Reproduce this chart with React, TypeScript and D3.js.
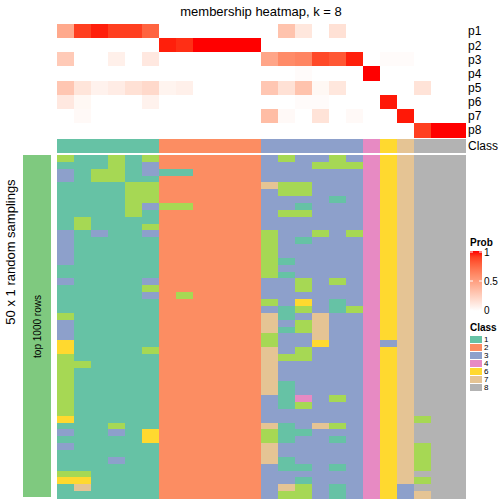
import React from "react";
import * as d3 from "d3";

const columns = d3.range(24);
const probRows = ["p1", "p2", "p3", "p4", "p5", "p6", "p7", "p8"];
const p1 = [0.45, 0.9, 0.97, 0.9, 0.9, 0.77, 0, 0, 0, 0, 0, 0, 0, 0.32, 0.13, 0, 0.16, 0, 0, 0, 0, 0, 0, 0];
const p2 = [0, 0, 0, 0, 0, 0, 0.97, 0.94, 1, 1, 1, 1, 0, 0, 0, 0, 0, 0, 0, 0, 0, 0, 0, 0];
const p3 = [0.28, 0, 0, 0.08, 0, 0.12, 0, 0, 0, 0, 0, 0, 0.47, 0.6, 0.63, 0.87, 0.82, 0.97, 0, 0.02, 0.02, 0, 0, 0];
const p4 = [0, 0, 0, 0, 0, 0, 0, 0, 0, 0, 0, 0, 0, 0, 0.02, 0, 0, 0, 1, 0, 0, 0, 0, 0];
const p5 = [0.3, 0.14, 0.07, 0.1, 0.16, 0.2, 0.06, 0.08, 0, 0, 0, 0, 0.3, 0.16, 0.32, 0.04, 0.13, 0, 0, 0, 0, 0.15, 0, 0];
const p6 = [0.12, 0.04, 0, 0, 0, 0.07, 0, 0, 0, 0, 0, 0, 0, 0, 0.02, 0.02, 0, 0, 0, 0.98, 0, 0, 0, 0];
const p7 = [0, 0.03, 0, 0, 0, 0, 0, 0, 0, 0, 0, 0, 0.35, 0.03, 0, 0.15, 0, 0.03, 0, 0, 0.98, 0, 0, 0];
const p8 = [0, 0, 0, 0, 0, 0, 0, 0, 0, 0, 0, 0, 0, 0, 0, 0, 0, 0, 0, 0, 0, 0.9, 1, 1];
const probs = [p1, p2, p3, p4, p5, p6, p7, p8];

const columnClass = [1, 1, 1, 1, 1, 1, 2, 2, 2, 2, 2, 2, 3, 3, 3, 3, 3, 3, 4, 6, 7, 8, 8, 8];

// 50 random samplings, one class digit per column
const samplings = [
  "511515222222353353467888",
  "111513222222333555467888",
  "315513112222333333467888",
  "315511222222333333467888",
  "111155222222755333467888",
  "111155222222355333467888",
  "111155222222333313467888",
  "111153552222331333467888",
  "111151222222355333467888",
  "151111222222333333467888",
  "151115222222333333467888",
  "313113222222533535467888",
  "311111222222531333467888",
  "311111222222533333467888",
  "311111222222533333467888",
  "311111222222513333467888",
  "111111222222533333467888",
  "111111222222513333467888",
  "311113222222335353467888",
  "111115222222335333467888",
  "111113252222333333467888",
  "111111222222536313467888",
  "111111222222315315467888",
  "511111222222713733467888",
  "311111222222735733467888",
  "311111222222715733467888",
  "311111222222533733467888",
  "611111222222533633437888",
  "611115222222735333467888",
  "511111222222755333467888",
  "551111222222733333467888",
  "511111222222733333467888",
  "511111222222733333467888",
  "511111222222713333467888",
  "511111222222713333467888",
  "511111222222314353467888",
  "511111222222315333467888",
  "511111222222333333467888",
  "611111222222333333467588",
  "111511222222713753467888",
  "311316222222511333467888",
  "111116222222513313467888",
  "311111222222733333467588",
  "111111222222733333467588",
  "111311222222713333467588",
  "111111222222311313467588",
  "551111222222333333467888",
  "661111222222331333467588",
  "171111222222375313463888",
  "111111222222355313463788",
];

const classIds = [1, 2, 3, 4, 5, 6, 7, 8];
const classColors = ["#66C2A5", "#FC8D62", "#8DA0CB", "#E78AC3", "#A6D854", "#FFD92F", "#E5C494", "#B3B3B3"];
const legendClasses = ["1", "2", "3", "4", "6", "7", "8"];
const probTicks = [0, 0.5, 1];

const FONT = "'Liberation Sans', Arial, Helvetica, sans-serif";

export default function App() {
  const x = d3.scaleBand<number>().domain(columns).range([57, 465]);
  const yTop = d3.scaleBand<string>().domain(probRows).range([24, 137]);
  const yBot = d3.scaleBand<number>().domain(d3.range(samplings.length)).range([155, 498]);
  const probColor = d3.scaleLinear<string>().domain([0, 1]).range(["#FFFFFF", "#FF0000"]).interpolate(d3.interpolateLab);
  const classColor = d3.scaleOrdinal<number, string>().domain(classIds).range(classColors);
  const legendY = d3.scaleLinear().domain([0, 1]).range([310, 252]);
  const gradStops = d3.range(0, 1.0001, 0.1);

  return (
    <svg width={504} height={504} style={{ position: "absolute", left: 0, top: 0, fontFamily: FONT }}>
      <defs>
        <linearGradient id="probGrad" x1="0" y1="1" x2="0" y2="0">
          {gradStops.map((s) => (
            <stop key={s} offset={s} stopColor={probColor(s)} />
          ))}
        </linearGradient>
      </defs>
      <rect width={504} height={504} fill="#FFFFFF" />
      <text x={261} y={16} fontSize={13} textAnchor="middle" fill="#000">
        membership heatmap, k = 8
      </text>

      <g shapeRendering="crispEdges">
        {probs.map((row, ri) =>
          row.map((v, ci) => (
            <rect
              key={`p${ri}-${ci}`}
              x={x(ci)}
              y={yTop(probRows[ri])}
              width={x.bandwidth() + 0.5}
              height={yTop.bandwidth() + 0.5}
              fill={probColor(v)}
            />
          ))
        )}
        {columnClass.map((c, ci) => (
          <rect key={`c${ci}`} x={x(ci)} y={138.5} width={x.bandwidth() + 0.5} height={14} fill={classColor(c)} />
        ))}
        <rect x={23} y={155} width={28} height={342} fill="#7FC97F" />
        {samplings.map((row, ri) =>
          row.split("").map((ch, ci) => (
            <rect
              key={`s${ri}-${ci}`}
              x={x(ci)}
              y={yBot(ri)}
              width={x.bandwidth() + 0.5}
              height={yBot.bandwidth() + 0.5}
              fill={classColor(+ch)}
            />
          ))
        )}
      </g>

      {probRows.map((r) => (
        <text key={r} x={468} y={(yTop(r) as number) + yTop.bandwidth() / 2} dy="0.36em" fontSize={12}>
          {r}
        </text>
      ))}
      <text x={468} y={145.5} dy="0.36em" fontSize={12}>
        Class
      </text>

      <text transform={`translate(41,326.5) rotate(-90)`} textAnchor="middle" fontSize={10}>
        top 1000 rows
      </text>
      <text transform={`translate(15,252) rotate(-90)`} textAnchor="middle" fontSize={13}>
        50 x 1 random samplings
      </text>

      <text x={470} y={246} fontSize={10} fontWeight="bold">
        Prob
      </text>
      <rect x={470} y={251} width={12} height={60} fill="url(#probGrad)" />
      {probTicks.map((t) => (
        <g key={t}>
          <line x1={470} x2={473} y1={legendY(t)} y2={legendY(t)} stroke="#FFFFFF" strokeWidth={1} />
          <line x1={479} x2={482} y1={legendY(t)} y2={legendY(t)} stroke="#FFFFFF" strokeWidth={1} />
          <text x={484} y={legendY(t)} dy="0.36em" fontSize={10}>
            {String(t)}
          </text>
        </g>
      ))}

      <text x={470} y={331} fontSize={10} fontWeight="bold">
        Class
      </text>
      {legendClasses.map((c, i) => (
        <g key={c}>
          <rect x={470} y={336 + i * 8} width={12} height={7} fill={classColor(+c)} shapeRendering="crispEdges" />
          <text x={484} y={339.5 + i * 8} dy="0.36em" fontSize={8}>
            {c}
          </text>
        </g>
      ))}
    </svg>
  );
}
